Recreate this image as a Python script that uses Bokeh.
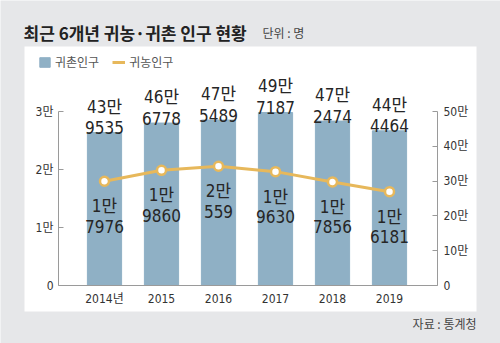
from bokeh.plotting import figure
from bokeh.models import (ColumnDataSource, Range1d, LinearAxis, FixedTicker,
                          Legend, LegendItem)
from bokeh.core.properties import value
from bokeh.embed import file_html
from bokeh.resources import INLINE

# ---- data ----
years = ["2014년", "2015", "2016", "2017", "2018", "2019"]
gwichon = [439535, 466778, 475489, 497187, 472474, 444464]   # 귀촌인구 (bars, right axis)
gwinong = [17976, 19860, 20559, 19630, 17856, 16181]         # 귀농인구 (line, left axis)
left_ticks = [0, 10000, 20000, 30000]
left_tick_labels = ["0", "1만", "2만", "3만"]
right_ticks = [0, 100000, 200000, 300000, 400000, 500000]
right_tick_labels = ["0", "10만", "20만", "30만", "40만", "50만"]
title_text = "최근 6개년 귀농·귀촌 인구 현황"
unit_text = "단위 : 명"
source_text = "자료 : 통계청"

BG = "#e6e7e9"
BAR = "#8fb0c5"
GOLD = "#e7b85b"
TXT = "#262626"
AX = "#9a9a9a"
NUMFONT = "Liberation Sans Narrow, DejaVu Sans Condensed, Noto Sans CJK KR"
KFONT = "Noto Sans CJK KR"

# ---- page geometry (pixels from top-left) ----
W, H = 500, 343
PANEL = dict(l=24, r=476, t=46, b=311)
AX_L, AX_R, AX_B, AX_T = 58, 437, 285, 111
FIRST_X, STEP = 104.0, 57.0
LEFT_MAX, RIGHT_MAX = left_ticks[-1], right_ticks[-1]


def px2x(px):
    return (px - FIRST_X) / STEP


def py2y(py, vmax=LEFT_MAX):
    return (AX_B - py) * vmax / (AX_B - AX_T)


p = figure(width=W, height=H, output_backend="svg", toolbar_location=None,
           x_range=Range1d(px2x(0), px2x(W)),
           y_range=Range1d(py2y(H), py2y(0)),
           min_border=0, min_border_left=0, min_border_right=0,
           min_border_top=0, min_border_bottom=0)
p.border_fill_color = BG
p.background_fill_color = BG
p.outline_line_color = None
p.grid.grid_line_color = None
p.extra_y_ranges = {"bars": Range1d(py2y(H, RIGHT_MAX), py2y(0, RIGHT_MAX))}

# white panel
p.quad(left=[px2x(PANEL["l"])], right=[px2x(PANEL["r"])],
       top=[py2y(PANEL["t"])], bottom=[py2y(PANEL["b"])],
       fill_color="white", line_color=None)

xs = list(range(len(years)))
src = ColumnDataSource(dict(
    x=xs, bar=gwichon, line=gwinong,
    bar_a=[f"{v // 10000}만" for v in gwichon],
    bar_b=[f"{v % 10000}" for v in gwichon],
    line_a=[f"{v // 10000}만" for v in gwinong],
    line_b=[f"{v % 10000}" for v in gwinong],
))

bars = p.vbar(x="x", top="bar", bottom=0, width=0.6, source=src, color=BAR,
              y_range_name="bars")
ln = p.line(x="x", y="line", source=src, line_color=GOLD, line_width=3)
p.scatter(x="x", y="line", source=src, size=9, fill_color="white",
          line_color=GOLD, line_width=2.5)

common = dict(text_align="center", text_baseline="alphabetic", text_font=value(NUMFONT),
              text_font_size="17px", text_color=TXT)
p.text(x="x", y="bar", text="bar_a", source=src, y_range_name="bars", y_offset=-26, **common)
p.text(x="x", y="bar", text="bar_b", source=src, y_range_name="bars", y_offset=-5, **common)
p.text(x="x", y="line", text="line_a", source=src, y_offset=25, **common)
p.text(x="x", y="line", text="line_b", source=src, y_offset=45, **common)

# titles / notes
p.text(x=[px2x(23)], y=[py2y(32)], text=[title_text], text_font=value(KFONT),
       text_font_size="17px", text_font_style="bold", text_color="#222222",
       text_baseline="middle")
p.text(x=[px2x(262)], y=[py2y(32)], text=[unit_text], text_font=value(KFONT),
       text_font_size="12px", text_color="#444444", text_baseline="middle")
p.text(x=[px2x(PANEL["r"])], y=[py2y(323)], text=[source_text], text_font=value(KFONT),
       text_font_size="12px", text_color="#444444", text_align="right",
       text_baseline="middle")

# axes (fixed inside the frame)
for ax in p.xaxis:
    ax.fixed_location = 0
    ax.bounds = (px2x(AX_L), px2x(AX_R))
    ax.ticker = FixedTicker(ticks=xs)
    ax.major_label_overrides = {i: y for i, y in enumerate(years)}
    ax.major_tick_in = 0
    ax.major_tick_out = 0
    ax.minor_tick_line_color = None
    ax.axis_line_color = AX
    ax.major_label_text_font = NUMFONT
    ax.major_label_text_font_size = "12px"
    ax.major_label_text_color = "#333333"
    ax.major_label_standoff = 6

for ax in p.yaxis:
    ax.fixed_location = px2x(AX_L)
    ax.bounds = (0, LEFT_MAX)
    ax.ticker = FixedTicker(ticks=left_ticks)
    ax.major_label_overrides = {t: l for t, l in zip(left_ticks, left_tick_labels)}
    ax.major_tick_in = 5
    ax.major_tick_out = 0
    ax.minor_tick_line_color = None
    ax.axis_line_color = AX
    ax.major_tick_line_color = AX
    ax.major_label_text_font = NUMFONT
    ax.major_label_text_font_size = "12px"
    ax.major_label_text_color = "#333333"
    ax.major_label_standoff = 5

rax = LinearAxis(y_range_name="bars", fixed_location=px2x(AX_R), bounds=(0, RIGHT_MAX),
                 ticker=FixedTicker(ticks=right_ticks),
                 major_label_overrides={t: l for t, l in zip(right_ticks, right_tick_labels)},
                 major_tick_in=5, major_tick_out=0, minor_tick_line_color=None,
                 axis_line_color=AX, major_tick_line_color=AX,
                 major_label_text_font=NUMFONT, major_label_text_font_size="12px",
                 major_label_text_color="#333333", major_label_standoff=6)
p.add_layout(rax, "right")

leg = Legend(items=[LegendItem(label="귀촌인구", renderers=[bars]),
                    LegendItem(label="귀농인구", renderers=[ln])],
             orientation="horizontal", location=(38, H - 70),
             background_fill_alpha=0, border_line_color=None,
             label_text_font=KFONT, label_text_font_size="12px", label_text_color="#555555",
             label_height=12, glyph_width=13, glyph_height=12, spacing=13, label_standoff=4,
             padding=0, margin=0)
p.add_layout(leg)

open("out.html", "w").write(file_html(p, INLINE))
